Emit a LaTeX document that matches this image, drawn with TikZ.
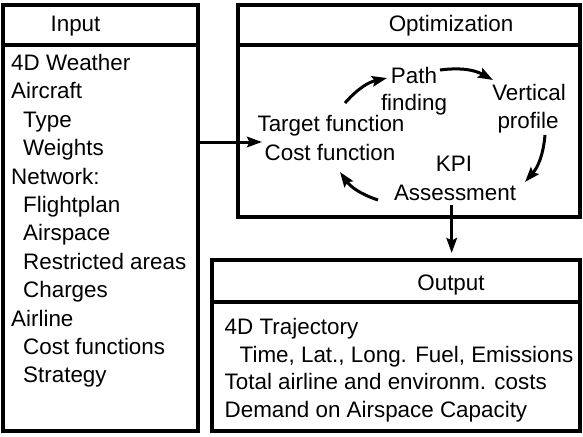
\documentclass[tikz,border=0pt]{standalone}
\usepackage{fontspec}
\setmainfont{Liberation Sans}
\usetikzlibrary{arrows.meta}
\begin{document}
\begin{tikzpicture}[x=1pt,y=-1pt,
  box/.style={draw, line width=4pt, rectangle, inner sep=0pt},
  lbl/.style={font=\fontsize{22.4}{28}\selectfont, inner sep=0pt, anchor=base west},
  clbl/.style={font=\fontsize{22.4}{28}\selectfont, inner sep=0pt, anchor=base},
  arr/.style={line width=3pt, -{Stealth[length=15pt,width=10.5pt,inset=2.5pt]}},
  loop/.style={arr, bend left=18},
]
\useasboundingbox (0,0) rectangle (583,436);

% Input box
\node[box, minimum width=195pt, minimum height=40pt] (inhead) at (100.5,25) {};
\node[box, minimum width=195pt, minimum height=385.5pt] (inbody) at (100.5,237.75) {};
\node[clbl] (intitle) at (75.5,32) {Input};

% Optimization box
\node[box, minimum width=342pt, minimum height=40pt] (opthead) at (409,25) {};
\node[box, minimum width=342pt, minimum height=172pt] (optbody) at (409,131) {};
\node[clbl] (opttitle) at (451,32) {Optimization};

% Output box
\node[box, minimum width=368pt, minimum height=42pt] (outhead) at (396,280.5) {};
\node[box, minimum width=368pt, minimum height=129.5pt] (outbody) at (396,366.25) {};
\node[clbl] (outtitle) at (451,290) {Output};

% Input list
\node[lbl] (in1) at (11,70.5) {4D Weather};
\node[lbl] (in2) at (11,98.9) {Aircraft};
\node[lbl] (in3) at (23,127.3) {Type};
\node[lbl] (in4) at (23,155.7) {Weights};
\node[lbl] (in5) at (11,184.1) {Network:};
\node[lbl] (in6) at (23,212.5) {Flightplan};
\node[lbl] (in7) at (23,240.9) {Airspace};
\node[lbl] (in8) at (23,269.3) {Restricted areas};
\node[lbl] (in9) at (23,297.7) {Charges};
\node[lbl] (in10) at (11,326.1) {Airline};
\node[lbl] (in11) at (23,354.5) {Cost functions};
\node[lbl] (in12) at (23,382.9) {Strategy};

% Output list
\node[lbl] (out1) at (224.5,334.5) {4D Trajectory};
\node[lbl] (out2) at (239.5,362.2) {Time, Lat., Long. Fuel, Emissions};
\node[lbl] (out3) at (224.5,389.9) {Total airline and environm. costs};
\node[lbl] (out4) at (224.5,417.6) {Demand on Airspace Capacity};

% Optimization loop labels
\node[clbl] (pf1) at (414,83.3) {Path};
\node[clbl] (pf2) at (414,110.5) {finding};
\node[clbl] (vp1) at (529,100.7) {Vertical};
\node[clbl] (vp2) at (528,128.3) {profile};
\node[clbl] (tf1) at (331,131.7) {Target function};
\node[clbl] (tf2) at (330,160) {Cost function};
\node[clbl] (kpi1) at (454,171.7) {KPI};
\node[clbl] (kpi2) at (455,200) {Assessment};

% loop arrow end points
\coordinate (a1s) at (345,103);
\coordinate (a1e) at (387,78);
\coordinate (a2s) at (440,70);
\coordinate (a2e) at (493,80);
\coordinate (a3s) at (545,135);
\coordinate (a3e) at (525,182);
\coordinate (a4s) at (378,200);
\coordinate (a4e) at (340,172);
\draw[loop] (a1s) to (a1e);
\draw[loop] (a2s) to (a2e);
\draw[loop] (a3s) to (a3e);
\draw[loop] (a4s) to (a4e);

% Input -> Optimization
\coordinate (inarr) at (262,142);
\draw[arr] (inbody.east |- inarr) -- (inarr);

% Optimization -> Output
\coordinate (dstart) at (451.7,205);
\draw[arr, shorten >=4.5pt] (dstart) -- (dstart |- outhead.north);
\end{tikzpicture}
\end{document}
